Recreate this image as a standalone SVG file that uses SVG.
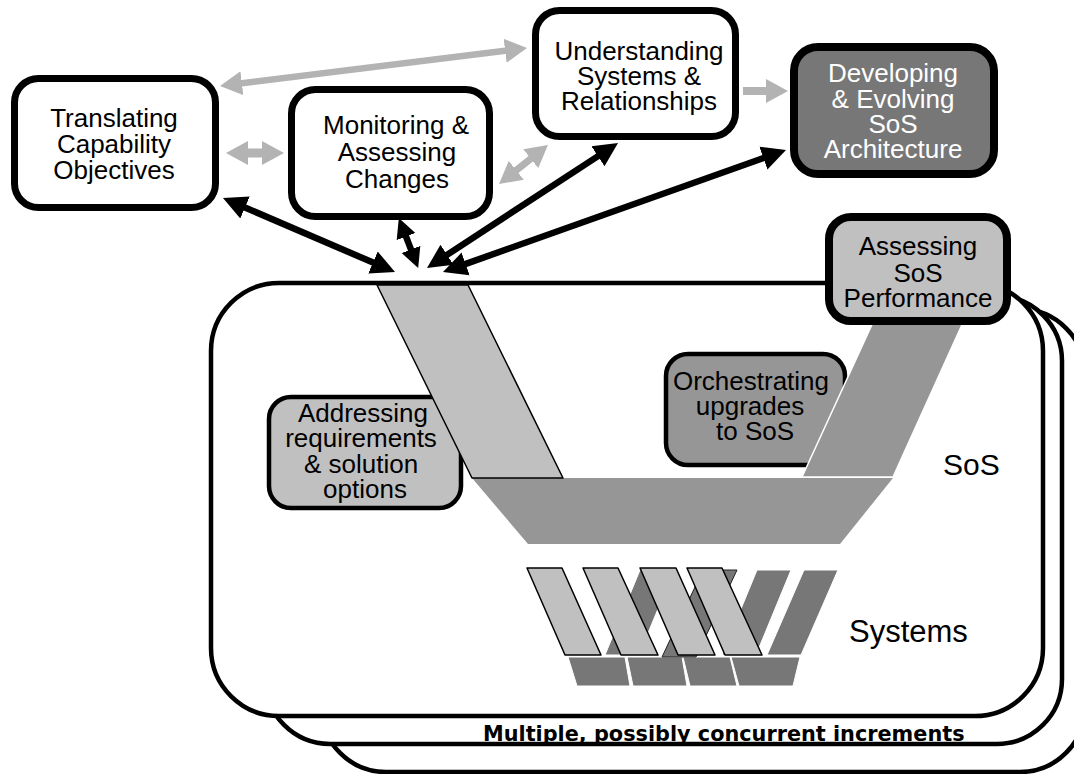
<svg xmlns="http://www.w3.org/2000/svg" width="1074" height="774" viewBox="0 0 1074 774">
<style>
.frame{fill:#fff;stroke:#000;stroke-width:4.5}
.lbl{font-family:"Liberation Sans",Arial,sans-serif;font-size:26px;text-anchor:middle;fill:#000}
.wht{fill:#fff}
.big{font-family:"Liberation Sans",Arial,sans-serif;font-size:31px;fill:#000}
.light{fill:#c0c0c0}
.mid{fill:#969696}
.dark{fill:#777}
.strip{fill:#c0c0c0;stroke:#000;stroke-width:1.5;stroke-linejoin:round}
.dstrip{fill:#777;stroke:#fff;stroke-width:1}
.blk{stroke:#000;stroke-width:6.5;fill:none}
.gry{stroke:#b3b3b3;fill:none}
</style>
<defs>
<marker id="ahB" markerUnits="userSpaceOnUse" markerWidth="26" markerHeight="26" viewBox="0 -13 26 26" refX="2" refY="0" orient="auto-start-reverse"><path d="M0,-12 L24,0 L0,12 z" fill="#000"/></marker>
<marker id="ahBs" markerUnits="userSpaceOnUse" markerWidth="22" markerHeight="22" viewBox="0 -11 22 22" refX="2" refY="0" orient="auto-start-reverse"><path d="M0,-10 L20,0 L0,10 z" fill="#000"/></marker>
<marker id="ahG" markerUnits="userSpaceOnUse" markerWidth="26" markerHeight="26" viewBox="0 -13 26 26" refX="2" refY="0" orient="auto-start-reverse"><path d="M0,-12 L22,0 L0,12 z" fill="#b3b3b3"/></marker>
</defs>

<g id="increments">
<rect class="frame" x="321" y="309" width="764" height="463" rx="65"/>
<rect class="frame" x="265" y="296" width="797" height="448" rx="65"/>
<rect class="frame" x="211" y="283" width="832" height="433" rx="68"/>
<text x="483" y="741" style="font-family:'DejaVu Sans',Verdana,sans-serif;font-weight:bold;font-size:20.8px">Multiple, possibly concurrent increments</text>
</g>

<g id="addressing">
<rect x="269" y="397" width="192" height="111" rx="22" class="light" stroke="#000" stroke-width="4.5"/>
<text class="lbl"><tspan x="363" y="422">Addressing</tspan><tspan x="361" y="447">requirements</tspan><tspan x="361" y="473">&amp; solution</tspan><tspan x="365" y="498">options</tspan></text>
</g>

<g id="orchestrating">
<rect x="666" y="354" width="179" height="111" rx="22" class="mid" stroke="#000" stroke-width="4.5"/>
<text class="lbl"><tspan x="751" y="390">Orchestrating</tspan><tspan x="750" y="415">upgrades</tspan><tspan x="755" y="440">to SoS</tspan></text>
</g>

<g id="sos-v">
<polygon class="mid" points="472,478 893,478 840,544 528,544"/>
<polygon class="mid" stroke="#fff" stroke-width="1.5" points="875,318 965,318 893,477 802,477"/>
<polygon class="strip" points="377,285 468,285 563,478 472,478"/>
<text class="big" x="943" y="475" style="font-size:30px">SoS</text>
</g>

<g id="assessing">
<rect x="829" y="217" width="178" height="104" rx="22" class="light" stroke="#000" stroke-width="8"/>
<text class="lbl"><tspan x="918" y="255">Assessing</tspan><tspan x="918" y="282">SoS</tspan><tspan x="918" y="307">Performance</tspan></text>
</g>

<g id="systems">
<polygon class="dstrip" points="568,657 625,657 630,686 577,686"/>
<polygon class="dstrip" points="627,657 682,657 687,686 633,686"/>
<polygon class="dstrip" points="683,657 730,657 737,686 690,686"/>
<polygon class="dstrip" points="731,657 800,657 793,686 739,686"/>
<polygon class="dstrip" points="640,570 674,570 639,655 605,655"/>
<polygon class="dstrip" style="stroke:#222" points="703,570 737,570 696,657 662,657"/>
<polygon class="dstrip" points="757,570 791,570 756,655 722,655"/>
<polygon class="dstrip" points="804,570 838,570 801,655 767,655"/>
<polygon class="strip" points="527,568 562,568 601,655 565,655"/>
<polygon class="strip" points="583,568 618,568 658,655 621,655"/>
<polygon class="strip" points="640,568 676,568 715,655 678,655"/>
<polygon class="strip" points="687,568 722,568 762,655 725,655"/>
<text class="big" x="849" y="642">Systems</text>
</g>

<g id="translating">
<rect x="14.5" y="78.5" width="201" height="129" rx="24" fill="#fff" stroke="#000" stroke-width="7"/>
<text class="lbl"><tspan x="114" y="127">Translating</tspan><tspan x="114" y="153">Capability</tspan><tspan x="114" y="179">Objectives</tspan></text>
</g>

<g id="monitoring">
<rect x="291.5" y="89.5" width="198" height="127" rx="24" fill="#fff" stroke="#000" stroke-width="7"/>
<text class="lbl"><tspan x="396" y="134">Monitoring &amp;</tspan><tspan x="397" y="161">Assessing</tspan><tspan x="397" y="188">Changes</tspan></text>
</g>

<g id="understanding">
<rect x="535.5" y="10.5" width="200" height="126" rx="24" fill="#fff" stroke="#000" stroke-width="7"/>
<text class="lbl"><tspan x="639" y="60">Understanding</tspan><tspan x="639" y="85">Systems &amp;</tspan><tspan x="639" y="110">Relationships</tspan></text>
</g>

<g id="developing">
<rect x="794" y="47" width="200" height="127" rx="24" class="dark" stroke="#000" stroke-width="8"/>
<text class="lbl wht"><tspan x="893" y="82">Developing</tspan><tspan x="893" y="108">&amp; Evolving</tspan><tspan x="893" y="133">SoS</tspan><tspan x="893" y="158">Architecture</tspan></text>
</g>

<g id="connectors">
<line class="blk" x1="243.2" y1="206.7" x2="374.8" y2="263.3" marker-start="url(#ahB)" marker-end="url(#ahB)"/>
<line class="blk" x1="405.3" y1="234.7" x2="411.7" y2="251.3" marker-start="url(#ahBs)" marker-end="url(#ahBs)"/>
<line class="blk" x1="599.6" y1="155.1" x2="445.4" y2="255.9" marker-start="url(#ahB)" marker-end="url(#ahB)"/>
<line class="blk" x1="765.3" y1="157.4" x2="463.7" y2="264.6" marker-start="url(#ahB)" marker-end="url(#ahB)"/>
<line class="gry" stroke-width="6.5" x1="239.9" y1="83.5" x2="507.1" y2="50.5" marker-start="url(#ahG)" marker-end="url(#ahG)"/>
<line class="gry" stroke-width="9" x1="246" y1="153" x2="264" y2="153" marker-start="url(#ahG)" marker-end="url(#ahG)"/>
<line class="gry" stroke-width="7" x1="514.7" y1="171.5" x2="532.3" y2="157.5" marker-start="url(#ahG)" marker-end="url(#ahG)"/>
<line class="gry" stroke-width="8" x1="743" y1="91" x2="768" y2="91" marker-end="url(#ahG)"/>
</g>
</svg>
